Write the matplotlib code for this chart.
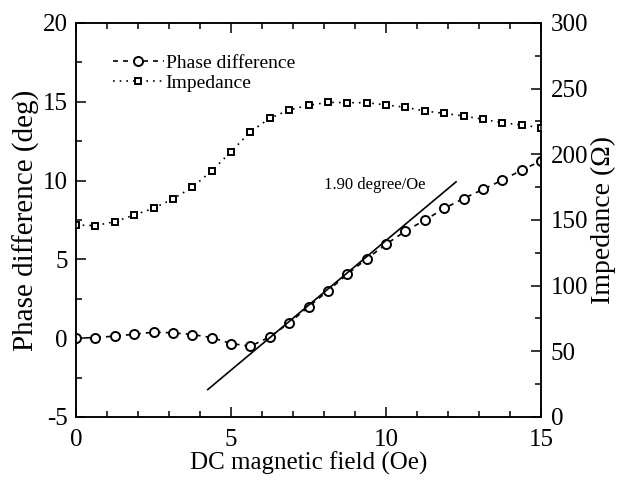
import matplotlib.pyplot as plt
from matplotlib.ticker import MultipleLocator

plt.rcParams['font.family'] = ['Liberation Serif', 'DejaVu Serif']
plt.rcParams['axes.unicode_minus'] = False

# DC field (Oe), 25 points from 0 to 15
field = [0.0, 0.625, 1.25, 1.875, 2.5, 3.125, 3.75, 4.375, 5.0, 5.625,
         6.25, 6.875, 7.5, 8.125, 8.75, 9.375, 10.0, 10.625, 11.25, 11.875,
         12.5, 13.125, 13.75, 14.375, 15.0]
phase = [0.0, 0.04, 0.13, 0.25, 0.38, 0.34, 0.23, 0.04, -0.34, -0.51,
         0.08, 0.97, 1.99, 3.00, 4.06, 5.03, 5.96, 6.79, 7.49, 8.23,
         8.86, 9.44, 10.03, 10.66, 11.25]
impedance = [146.2, 145.7, 148.7, 153.8, 158.9, 166.0, 174.9, 187.3, 202.0, 217.2,
             227.4, 233.8, 237.3, 239.6, 239.3, 239.3, 237.6, 235.8, 233.0, 231.2,
             229.2, 226.7, 224.1, 222.3, 220.3]
# fitted slope line ends
fit_x = [4.25, 12.26]
fit_y = [-3.26, 9.92]
slope_label = '1.90 degree/Oe'

fig = plt.figure(figsize=(6.21, 4.82), dpi=100)
ax = fig.add_axes([0.1224, 0.1349, 0.7488, 0.8174])
ax2 = ax.twinx()

l1, = ax.plot(field, phase, color='black', lw=1.2, ls=(0, (3, 3)),
              marker='o', ms=6.5, mfc='white', mec='black', mew=1.4,
              label='Phase difference')
l2, = ax2.plot(field, impedance, color='black', lw=1.2, ls=(0, (1, 3)),
               marker='s', ms=5, mfc='white', mec='black', mew=1.4,
               label='Impedance')
ax.plot(fit_x, fit_y, color='black', lw=1.2)
ax.text(8.0, 9.7, slope_label, fontsize=12, va='center', ha='left')

ax.set_xlim(0, 15)
ax.set_ylim(-5, 20)
ax2.set_ylim(0, 300)
ax.xaxis.set_major_locator(MultipleLocator(5))
ax.xaxis.set_minor_locator(MultipleLocator(1))
ax.yaxis.set_major_locator(MultipleLocator(5))
ax.yaxis.set_minor_locator(MultipleLocator(2.5))
ax2.yaxis.set_major_locator(MultipleLocator(50))
ax2.yaxis.set_minor_locator(MultipleLocator(25))

ax.tick_params(which='both', direction='in', top=True, labelsize=18, width=1.1)
ax.tick_params(which='major', length=7)
ax.tick_params(which='minor', length=4)
ax.tick_params(axis='x', which='major', pad=9)
ax.tick_params(axis='y', which='major', pad=6)
ax2.tick_params(which='both', direction='in', labelsize=18, width=1.1)
ax2.tick_params(which='major', length=7, pad=7)
ax2.tick_params(which='minor', length=4)
for a in (ax, ax2):
    for s in a.spines.values():
        s.set_linewidth(1.1)

ax.set_xlabel('DC magnetic field (Oe)', fontsize=18, labelpad=0)
ax.set_ylabel('Phase difference (deg)', fontsize=21, labelpad=2)
ax2.set_ylabel('Impedance (Ω)', fontsize=20, labelpad=2)

ax.legend(handles=[l1, l2], loc='upper left', bbox_to_anchor=(0.08, 0.92),
          frameon=False, fontsize=14, borderpad=0, borderaxespad=0,
          handlelength=2.6, handletextpad=0.1, labelspacing=0.1)

fig.savefig('out.png', dpi=100)
